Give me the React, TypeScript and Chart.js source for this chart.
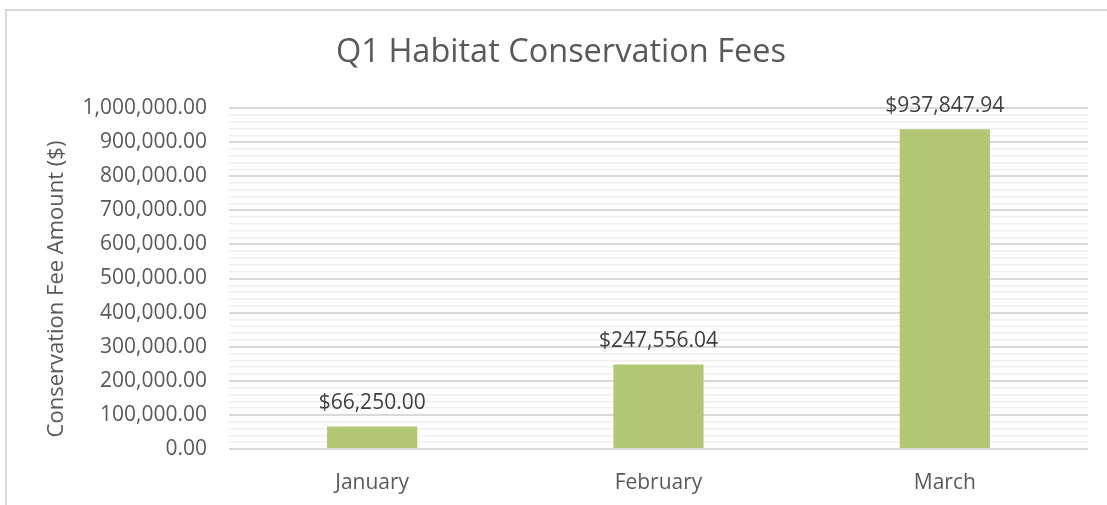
import React, { useEffect, useRef } from "react";
import { Chart, registerables } from "chart.js";

Chart.register(...registerables);

const categories = ["January", "February", "March"];
const feeValues = [66250.0, 247556.04, 937847.94];
const chartTitle = "Q1 Habitat Conservation Fees";
const yAxisTitle = "Conservation Fee Amount ($)";
const yMin = 0;
const yMax = 1000000;
const majorStep = 100000;
const minorStep = 20000;

const FONT = "'Open Sans', 'Noto Sans', sans-serif";
const fmt = (v: number) =>
  v.toLocaleString("en-US", { minimumFractionDigits: 2, maximumFractionDigits: 2 });

const dataLabelPlugin = {
  id: "dataLabels",
  afterDatasetsDraw(chart: any) {
    const ctx = chart.ctx;
    const meta = chart.getDatasetMeta(0);
    ctx.save();
    ctx.font = `21px ${FONT}`;
    ctx.fillStyle = "#404040";
    ctx.textAlign = "center";
    ctx.textBaseline = "bottom";
    meta.data.forEach((bar: any, i: number) => {
      const v = chart.data.datasets[0].data[i] as number;
      ctx.fillText("$" + fmt(v), bar.x, bar.y - 13);
    });
    ctx.restore();
  },
};

const titlePlugin = {
  id: "customTitle",
  afterDraw(chart: any) {
    const ctx = chart.ctx;
    ctx.save();
    ctx.font = `32.5px ${FONT}`;
    ctx.fillStyle = "#595959";
    ctx.textAlign = "center";
    ctx.textBaseline = "middle";
    ctx.fillText(chartTitle, 561, 53);
    ctx.font = `22px ${FONT}`;
    ctx.translate(57, 289);
    ctx.rotate(-Math.PI / 2);
    ctx.fillText(yAxisTitle, 0, 0);
    ctx.restore();
  },
};

export default function App() {
  const ref = useRef<HTMLCanvasElement | null>(null);

  useEffect(() => {
    if (!ref.current) return;
    const chart = new Chart(ref.current, {
      type: "bar",
      data: {
        labels: categories,
        datasets: [
          {
            data: feeValues,
            backgroundColor: "#b1c774",
            borderWidth: 0,
            categoryPercentage: 1,
            barPercentage: 0.315,
          },
        ],
      },
      options: {
        animation: false,
        responsive: false,
        maintainAspectRatio: false,
        layout: { padding: { top: 108, right: 19, left: 0, bottom: 0 } },
        plugins: {
          legend: { display: false },
          title: { display: false },
          tooltip: { enabled: false },
        },
        scales: {
          x: {
            grid: { display: false, drawTicks: false },
            border: { display: false },
            ticks: {
              color: "#595959",
              font: { family: FONT, size: 21 },
              padding: 21,
            },
            afterFit: (scale: any) => {
              scale.height = 505 - 449;
            },
          },
          y: {
            min: yMin,
            max: yMax,
            border: { display: false },
            grid: {
              drawTicks: false,
              color: (c: any) =>
                c.tick && c.tick.value % majorStep === 0 ? "#d9d9d9" : "#efefef",
              lineWidth: (c: any) =>
                c.tick && c.tick.value % majorStep === 0 ? 2 : 1.5,
            },
            ticks: {
              stepSize: minorStep,
              autoSkip: false,
              color: "#595959",
              font: { family: FONT, size: 21 },
              padding: 22,
              callback: (v: any) => (Number(v) % majorStep === 0 ? fmt(Number(v)) : ""),
            },
            title: { display: false },
            afterFit: (scale: any) => {
              scale.width = 229;
            },
          },
        },
      },
      plugins: [dataLabelPlugin, titlePlugin],
    });
    return () => chart.destroy();
  }, []);

  return (
    <div style={{ position: "fixed", left: 0, top: 0, width: 1107, height: 505, background: "#fff" }}>
      <div
        style={{
          position: "absolute",
          left: 5,
          top: 9,
          width: 1107,
          height: 505,
          borderTop: "2px solid #d9d9d9",
          borderLeft: "2px solid #d9d9d9",
          boxSizing: "border-box",
        }}
      />
      <canvas ref={ref} width={1107} height={505} style={{ position: "absolute", left: 0, top: 0 }} />
    </div>
  );
}
